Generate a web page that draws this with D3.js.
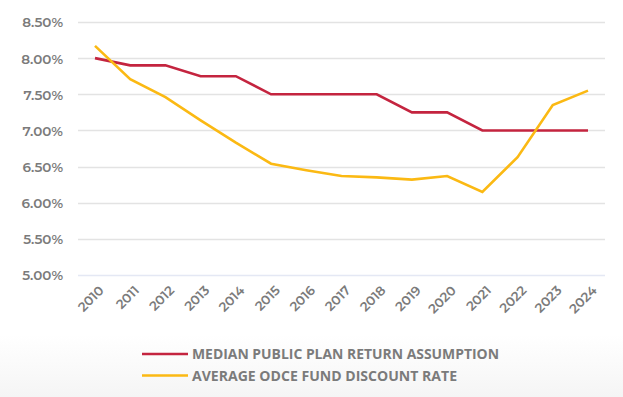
<!DOCTYPE html>
<html>
<head>
<meta charset="utf-8">
<script src="https://cdn.jsdelivr.net/npm/d3@7"></script>
<style>
  html, body { margin: 0; padding: 0; }
  body { width: 623px; height: 397px; overflow: hidden;
         background: linear-gradient(to bottom, #ffffff 0px, #ffffff 335px, #f5f5f5 397px); }
  svg { display: block; }
</style>
</head>
<body>
<svg id="chart"></svg>
<script>
// chart data
const years = ['2010', '2011', '2012', '2013', '2014', '2015', '2016', '2017', '2018', '2019', '2020', '2021', '2022', '2023', '2024'];
const medianReturn = [8.0, 7.9, 7.9, 7.75, 7.75, 7.5, 7.5, 7.5, 7.5, 7.25, 7.25, 7.0, 7.0, 7.0, 7.0];
const odceDiscount = [8.17, 7.71, 7.46, 7.14, 6.83, 6.54, 6.45, 6.37, 6.35, 6.32, 6.37, 6.15, 6.63, 7.35, 7.55];
const yTicks = [5.0, 5.5, 6.0, 6.5, 7.0, 7.5, 8.0, 8.5];
const seriesNames = ['MEDIAN PUBLIC PLAN RETURN ASSUMPTION', 'AVERAGE ODCE FUND DISCOUNT RATE'];

const W = 623, H = 397;
const FONT = "Montserrat, 'Open Sans', 'DejaVu Sans', sans-serif";
const GREY = '#7b7b7b';
const colors = ['#c4243f', '#fbb913'];
const legendWidths = [307, 265]; // condensed legend text, like the original

const svg = d3.select('#chart').attr('width', W).attr('height', H);

// scales
const x = d3.scalePoint().domain(years).range([95, 588]);
const y = d3.scaleLinear().domain([5.0, 8.5]).range([275, 22]);

// grid lines
svg.append('g').selectAll('line').data(yTicks).enter().append('line')
    .attr('x1', 78).attr('x2', 605)
    .attr('y1', d => Math.round(y(d)) + 0.5).attr('y2', d => Math.round(y(d)) + 0.5)
    .attr('stroke', d => d === 5.0 ? '#e4e8f4' : '#e3e3e3')
    .attr('stroke-width', 1.5);

// y axis labels
const yAxis = d3.axisLeft(y).tickValues(yTicks).tickSize(0).tickPadding(0)
    .tickFormat(d => d.toFixed(2) + '%');
const gy = svg.append('g').attr('transform', 'translate(63,0)').call(yAxis);
gy.select('.domain').remove();
gy.selectAll('text')
    .attr('font-family', FONT).attr('font-size', '13.5px').attr('font-weight', 600)
    .attr('fill', GREY).attr('dy', '0.36em');

// x axis labels (rotated)
const xAxis = d3.axisBottom(x).tickSize(0).tickPadding(0);
const gx = svg.append('g').attr('transform', 'translate(0,288)').call(xAxis);
gx.select('.domain').remove();
gx.selectAll('text')
    .attr('font-family', FONT).attr('font-size', '13px').attr('font-weight', 600)
    .attr('fill', GREY)
    .attr('text-anchor', 'end')
    .attr('dy', '0.35em')
    .attr('transform', 'translate(6,0) rotate(-45)');

// lines
const line = d3.line().x((d, i) => x(years[i])).y(d => y(d));
[medianReturn, odceDiscount].forEach((s, k) => {
    svg.append('path').datum(s)
        .attr('fill', 'none')
        .attr('stroke', colors[k])
        .attr('stroke-width', 2.6)
        .attr('stroke-linejoin', 'miter')
        .attr('d', line);
});

// legend
const legend = svg.append('g').attr('transform', 'translate(142,354)');
seriesNames.forEach((name, k) => {
    const g = legend.append('g').attr('transform', `translate(0,${k * 21.5})`);
    g.append('line').attr('x1', 0).attr('x2', 46).attr('y1', 0).attr('y2', 0)
        .attr('stroke', colors[k]).attr('stroke-width', 2.6);
    g.append('text').attr('x', 50).attr('y', 0).attr('dy', '0.36em')
        .attr('font-family', "'Open Sans', sans-serif").attr('font-size', '14px').attr('font-weight', 700)
        .attr('textLength', legendWidths[k]).attr('lengthAdjust', 'spacingAndGlyphs')
        .attr('fill', GREY).text(name);
});
</script>
</body>
</html>
